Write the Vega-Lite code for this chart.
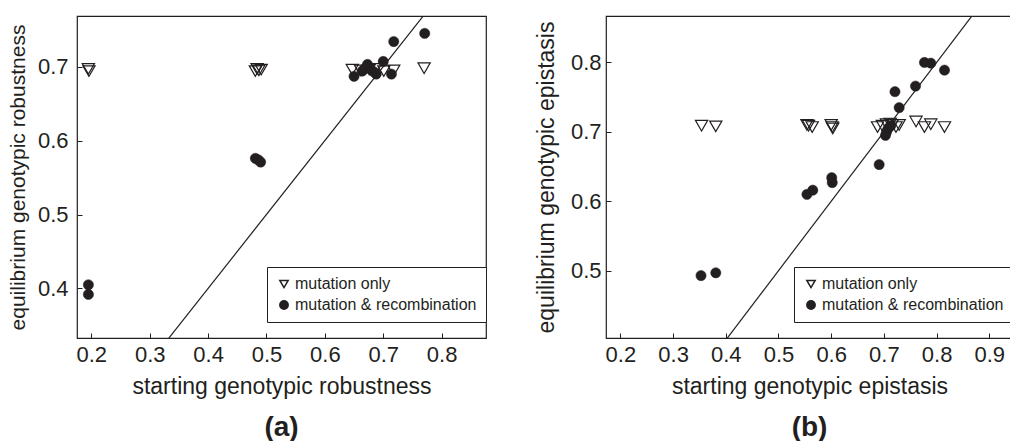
{
  "$schema": "https://vega.github.io/schema/vega-lite/v6.json",
  "background": "white",
  "padding": {"left": 6, "top": 15, "right": 0, "bottom": 0},
  "spacing": 46,
  "datasets": {
    "robustness": [
      {"series": "mutation only", "start": 0.195, "equilibrium": 0.697},
      {"series": "mutation only", "start": 0.196, "equilibrium": 0.694},
      {"series": "mutation only", "start": 0.481, "equilibrium": 0.694},
      {"series": "mutation only", "start": 0.484, "equilibrium": 0.697},
      {"series": "mutation only", "start": 0.487, "equilibrium": 0.695},
      {"series": "mutation only", "start": 0.491, "equilibrium": 0.696},
      {"series": "mutation only", "start": 0.647, "equilibrium": 0.696},
      {"series": "mutation only", "start": 0.661, "equilibrium": 0.695},
      {"series": "mutation only", "start": 0.676, "equilibrium": 0.696},
      {"series": "mutation only", "start": 0.687, "equilibrium": 0.697},
      {"series": "mutation only", "start": 0.701, "equilibrium": 0.694},
      {"series": "mutation only", "start": 0.718, "equilibrium": 0.695},
      {"series": "mutation only", "start": 0.770, "equilibrium": 0.698},
      {"series": "mutation & recombination", "start": 0.195, "equilibrium": 0.405},
      {"series": "mutation & recombination", "start": 0.195, "equilibrium": 0.392},
      {"series": "mutation & recombination", "start": 0.481, "equilibrium": 0.576},
      {"series": "mutation & recombination", "start": 0.486, "equilibrium": 0.574},
      {"series": "mutation & recombination", "start": 0.490, "equilibrium": 0.571},
      {"series": "mutation & recombination", "start": 0.650, "equilibrium": 0.687},
      {"series": "mutation & recombination", "start": 0.664, "equilibrium": 0.694},
      {"series": "mutation & recombination", "start": 0.668, "equilibrium": 0.697},
      {"series": "mutation & recombination", "start": 0.673, "equilibrium": 0.703},
      {"series": "mutation & recombination", "start": 0.678, "equilibrium": 0.697},
      {"series": "mutation & recombination", "start": 0.684, "equilibrium": 0.693},
      {"series": "mutation & recombination", "start": 0.688, "equilibrium": 0.690},
      {"series": "mutation & recombination", "start": 0.700, "equilibrium": 0.707},
      {"series": "mutation & recombination", "start": 0.714, "equilibrium": 0.690},
      {"series": "mutation & recombination", "start": 0.718, "equilibrium": 0.734},
      {"series": "mutation & recombination", "start": 0.771, "equilibrium": 0.745}
    ],
    "epistasis": [
      {"series": "mutation only", "start": 0.354, "equilibrium": 0.709},
      {"series": "mutation only", "start": 0.381, "equilibrium": 0.708},
      {"series": "mutation only", "start": 0.554, "equilibrium": 0.710},
      {"series": "mutation only", "start": 0.557, "equilibrium": 0.709},
      {"series": "mutation only", "start": 0.564, "equilibrium": 0.707},
      {"series": "mutation only", "start": 0.600, "equilibrium": 0.710},
      {"series": "mutation only", "start": 0.602, "equilibrium": 0.707},
      {"series": "mutation only", "start": 0.603, "equilibrium": 0.705},
      {"series": "mutation only", "start": 0.688, "equilibrium": 0.707},
      {"series": "mutation only", "start": 0.697, "equilibrium": 0.709},
      {"series": "mutation only", "start": 0.705, "equilibrium": 0.711},
      {"series": "mutation only", "start": 0.712, "equilibrium": 0.712},
      {"series": "mutation only", "start": 0.716, "equilibrium": 0.710},
      {"series": "mutation only", "start": 0.723, "equilibrium": 0.707},
      {"series": "mutation only", "start": 0.729, "equilibrium": 0.710},
      {"series": "mutation only", "start": 0.761, "equilibrium": 0.715},
      {"series": "mutation only", "start": 0.777, "equilibrium": 0.707},
      {"series": "mutation only", "start": 0.789, "equilibrium": 0.711},
      {"series": "mutation only", "start": 0.815, "equilibrium": 0.707},
      {"series": "mutation & recombination", "start": 0.353, "equilibrium": 0.493},
      {"series": "mutation & recombination", "start": 0.381, "equilibrium": 0.497},
      {"series": "mutation & recombination", "start": 0.554, "equilibrium": 0.610},
      {"series": "mutation & recombination", "start": 0.565, "equilibrium": 0.616},
      {"series": "mutation & recombination", "start": 0.601, "equilibrium": 0.634},
      {"series": "mutation & recombination", "start": 0.602, "equilibrium": 0.627},
      {"series": "mutation & recombination", "start": 0.691, "equilibrium": 0.653},
      {"series": "mutation & recombination", "start": 0.703, "equilibrium": 0.695},
      {"series": "mutation & recombination", "start": 0.705, "equilibrium": 0.700},
      {"series": "mutation & recombination", "start": 0.708, "equilibrium": 0.705},
      {"series": "mutation & recombination", "start": 0.713, "equilibrium": 0.709},
      {"series": "mutation & recombination", "start": 0.721, "equilibrium": 0.758},
      {"series": "mutation & recombination", "start": 0.729, "equilibrium": 0.735},
      {"series": "mutation & recombination", "start": 0.760, "equilibrium": 0.766},
      {"series": "mutation & recombination", "start": 0.777, "equilibrium": 0.800},
      {"series": "mutation & recombination", "start": 0.789, "equilibrium": 0.799},
      {"series": "mutation & recombination", "start": 0.815, "equilibrium": 0.789}
    ],
    "diagonal": [
      {"start": 0, "equilibrium": 0},
      {"start": 1, "equilibrium": 1}
    ]
  },
  "config": {
    "font": "Liberation Sans",
    "view": {"stroke": "#231f20", "strokeWidth": 1.2},
    "axis": {
      "grid": false,
      "domain": false,
      "ticks": true,
      "tickColor": "#231f20",
      "tickSize": -5,
      "labelFont": "Liberation Sans",
      "labelFontSize": 22,
      "labelColor": "#231f20",
      "titleFont": "Liberation Sans",
      "titleFontSize": 23,
      "titleFontWeight": "normal",
      "titleColor": "#231f20"
    },
    "legend": {
      "orient": "none",
      "title": null,
      "strokeColor": "#231f20",
      "fillColor": "white",
      "padding": 9,
      "labelFont": "Liberation Sans",
      "labelFontSize": 16,
      "labelColor": "#231f20",
      "labelLimit": 400,
      "labelOffset": 3,
      "rowPadding": 5,
      "symbolSize": 70,
      "symbolOpacity": 1
    },
    "title": {
      "font": "Liberation Sans",
      "fontSize": 28,
      "fontWeight": "bold",
      "color": "#231f20",
      "orient": "bottom",
      "anchor": "middle",
      "offset": 16
    }
  },
  "resolve": {
    "scale": {"shape": "independent", "fill": "independent"},
    "legend": {"shape": "independent", "fill": "independent"}
  },
  "hconcat": [
    {
      "width": 409,
      "height": 322,
      "title": {"text": "(a)"},
      "layer": [
        {
          "data": {"name": "diagonal"},
          "mark": {"type": "line", "clip": true, "color": "#231f20", "strokeWidth": 1.2},
          "encoding": {
            "x": {"field": "start", "type": "quantitative"},
            "y": {"field": "equilibrium", "type": "quantitative"}
          }
        },
        {
          "data": {"name": "robustness"},
          "transform": [{"filter": "datum.series === 'mutation only'"}],
          "mark": {"type": "point", "filled": true, "opacity": 1, "size": 150, "stroke": "#231f20", "strokeWidth": 1.2},
          "encoding": {
            "x": {"field": "start", "type": "quantitative"},
            "y": {"field": "equilibrium", "type": "quantitative"},
            "shape": {"field": "series", "type": "nominal"},
            "fill": {"field": "series", "type": "nominal"}
          }
        },
        {
          "data": {"name": "robustness"},
          "transform": [{"filter": "datum.series !== 'mutation only'"}],
          "mark": {"type": "point", "filled": true, "opacity": 1, "size": 105, "stroke": "#231f20", "strokeWidth": 0.5},
          "encoding": {
            "x": {
              "field": "start", "type": "quantitative",
              "scale": {"domain": [0.1755, 0.876], "nice": false, "zero": false},
              "axis": {"title": "starting genotypic robustness", "values": [0.2, 0.3, 0.4, 0.5, 0.6, 0.7, 0.8], "format": ".1f", "labelPadding": 11, "titlePadding": 10}
            },
            "y": {
              "field": "equilibrium", "type": "quantitative",
              "scale": {"domain": [0.333, 0.7685], "nice": false, "zero": false},
              "axis": {"title": "equilibrium genotypic robustness", "titleFontSize": 21, "values": [0.4, 0.5, 0.6, 0.7], "format": ".1f", "labelPadding": 14, "titlePadding": 9}
            },
            "shape": {
              "field": "series", "type": "nominal",
              "scale": {"domain": ["mutation only", "mutation & recombination"], "range": ["triangle-down", "circle"]},
              "legend": {"legendX": 190, "legendY": 251, "encode": {"symbols": {"update": {"stroke": {"value": "#231f20"}, "strokeWidth": {"value": 1.2}, "opacity": {"value": 1}}}}}
            },
            "fill": {
              "field": "series", "type": "nominal",
              "scale": {"domain": ["mutation only", "mutation & recombination"], "range": ["transparent", "#231f20"]},
              "legend": {"legendX": 190, "legendY": 251, "encode": {"symbols": {"update": {"stroke": {"value": "#231f20"}, "strokeWidth": {"value": 1.2}, "opacity": {"value": 1}}}}}
            }
          }
        }
      ]
    },
    {
      "width": 407,
      "height": 322,
      "title": {"text": "(b)"},
      "layer": [
        {
          "data": {"name": "diagonal"},
          "mark": {"type": "line", "clip": true, "color": "#231f20", "strokeWidth": 1.2},
          "encoding": {
            "x": {"field": "start", "type": "quantitative"},
            "y": {"field": "equilibrium", "type": "quantitative"}
          }
        },
        {
          "data": {"name": "epistasis"},
          "transform": [{"filter": "datum.series === 'mutation only'"}],
          "mark": {"type": "point", "filled": true, "opacity": 1, "size": 150, "stroke": "#231f20", "strokeWidth": 1.2},
          "encoding": {
            "x": {"field": "start", "type": "quantitative"},
            "y": {"field": "equilibrium", "type": "quantitative"},
            "shape": {"field": "series", "type": "nominal"},
            "fill": {"field": "series", "type": "nominal"}
          }
        },
        {
          "data": {"name": "epistasis"},
          "transform": [{"filter": "datum.series !== 'mutation only'"}],
          "mark": {"type": "point", "filled": true, "opacity": 1, "size": 105, "stroke": "#231f20", "strokeWidth": 0.5},
          "encoding": {
            "x": {
              "field": "start", "type": "quantitative",
              "scale": {"domain": [0.1727, 0.945], "nice": false, "zero": false},
              "axis": {"title": "starting genotypic epistasis", "values": [0.2, 0.3, 0.4, 0.5, 0.6, 0.7, 0.8, 0.9], "format": ".1f", "labelPadding": 11, "titlePadding": 10}
            },
            "y": {
              "field": "equilibrium", "type": "quantitative",
              "scale": {"domain": [0.403, 0.867], "nice": false, "zero": false},
              "axis": {"title": "equilibrium genotypic epistasis", "values": [0.5, 0.6, 0.7, 0.8], "format": ".1f", "labelPadding": 10, "titlePadding": 12}
            },
            "shape": {
              "field": "series", "type": "nominal",
              "scale": {"domain": ["mutation only", "mutation & recombination"], "range": ["triangle-down", "circle"]},
              "legend": {"legendX": 188, "legendY": 251, "encode": {"symbols": {"update": {"stroke": {"value": "#231f20"}, "strokeWidth": {"value": 1.2}, "opacity": {"value": 1}}}}}
            },
            "fill": {
              "field": "series", "type": "nominal",
              "scale": {"domain": ["mutation only", "mutation & recombination"], "range": ["transparent", "#231f20"]},
              "legend": {"legendX": 188, "legendY": 251, "encode": {"symbols": {"update": {"stroke": {"value": "#231f20"}, "strokeWidth": {"value": 1.2}, "opacity": {"value": 1}}}}}
            }
          }
        }
      ]
    }
  ]
}
